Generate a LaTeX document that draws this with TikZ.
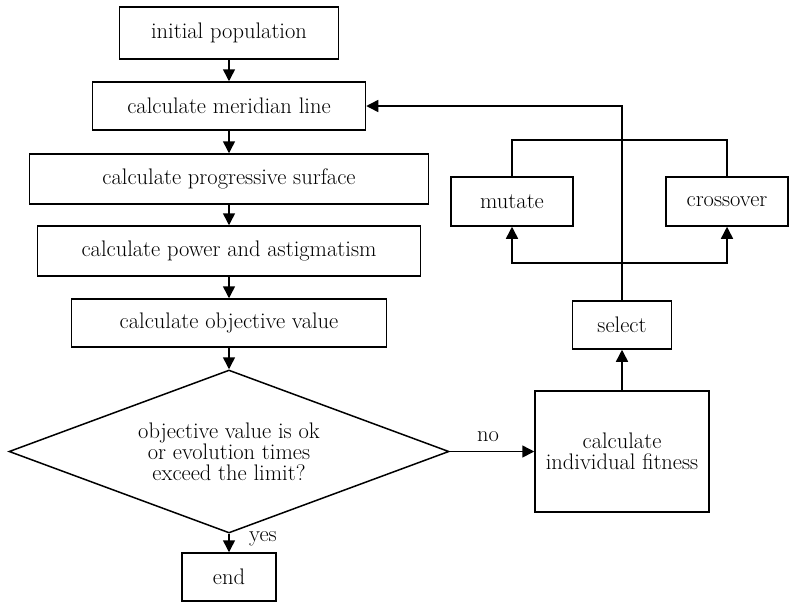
\documentclass[tikz,border=0pt]{standalone}
\usetikzlibrary{shapes.geometric,arrows.meta}
\begin{document}
\begin{tikzpicture}[x=1pt,y=-1pt,
  box/.style={draw, line width=1.5pt, inner sep=0pt, align=center, font=\fontsize{22.5}{21}\selectfont},
  dec/.style={draw, diamond, aspect=2.7, line width=1.5pt, inner sep=0pt, align=center, font=\fontsize{22.5}{21}\selectfont},
  arr/.style={line width=1.5pt, -{Triangle[length=12pt,width=12pt]}},
  ln/.style={line width=1.5pt},
  lbl/.style={font=\fontsize{22.5}{21}\selectfont, inner sep=0pt}]
\useasboundingbox (0,0) rectangle (794,603);
\node[box, minimum width=219pt, minimum height=52pt] (init) at (229,33) {initial population};
\node[box, minimum width=273pt, minimum height=48pt] (mer) at (229,106) {calculate meridian line};
\node[box, minimum width=399pt, minimum height=50pt] (prog) at (229,179) {calculate progressive surface};
\node[box, minimum width=383pt, minimum height=50pt] (pow) at (229,251) {calculate power and astigmatism};
\node[box, minimum width=315pt, minimum height=48pt] (obj) at (229,323) {calculate objective value};
\node[dec, minimum width=440pt, minimum height=163pt] (dia) at (229,451.5) {objective value is ok\\or evolution times\\exceed the limit?};
\node[box, minimum width=94pt, minimum height=48pt] (end) at (229,577) {end};
\node[box, minimum width=174pt, minimum height=121pt] (fit) at (622,451.5) {calculate\\individual fitness};
\node[box, minimum width=99pt, minimum height=48pt] (sel) at (622,325) {select};
\node[box, minimum width=122pt, minimum height=49pt] (mut) at (512,201.5) {mutate};
\node[box, minimum width=122pt, minimum height=49pt] (cro) at (727,201.5) {crossover};
\coordinate (top) at (622,140);
\coordinate (bot) at (622,263);
\draw[arr] (init) -- (mer);
\draw[arr] (mer) -- (prog);
\draw[arr] (prog) -- (pow);
\draw[arr] (pow) -- (obj);
\draw[arr] (obj) -- (dia);
\draw[arr] (dia) -- (end);
\draw[arr] (dia) -- (fit);
\draw[arr] (fit) -- (sel);
\draw[arr] (sel.north) |- (mer.east);
\draw[ln] (mut.north) |- (top) -| (cro.north);
\draw[arr] (bot) -| (mut.south);
\draw[arr] (bot) -| (cro.south);
\node[lbl] (no) at (488,437) {no};
\node[lbl] (yes) at (263,539) {yes};
\end{tikzpicture}
\end{document}
